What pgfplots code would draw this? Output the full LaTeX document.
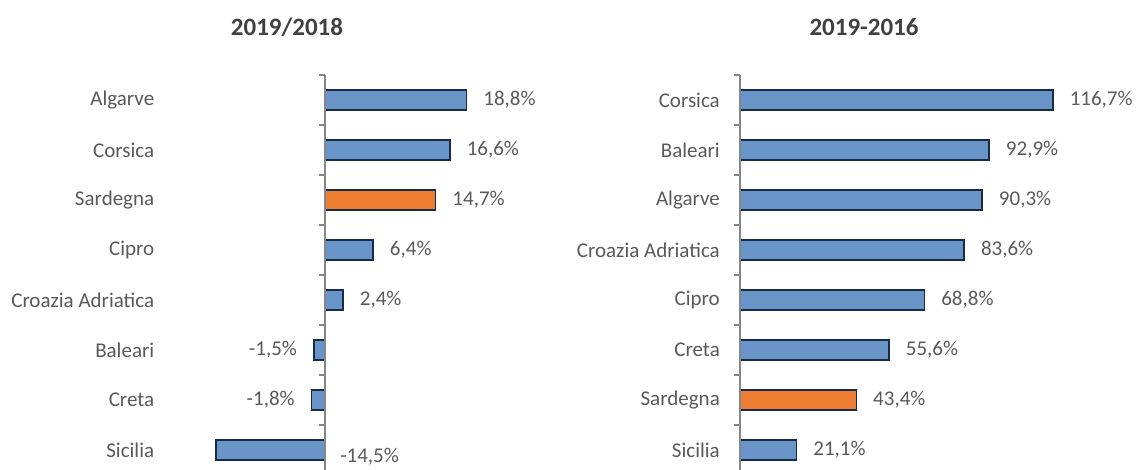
\documentclass[border=0pt]{standalone}
\usepackage{pgfplots}
\pgfplotsset{compat=1.18}
\usepackage{fontspec}
\setmainfont{Carlito}
\definecolor{barblue}{RGB}{104,148,200}
\definecolor{barorange}{RGB}{237,125,49}
\definecolor{baredge}{RGB}{22,43,72}
\definecolor{axgray}{RGB}{134,134,134}
\definecolor{txtgray}{RGB}{89,89,89}
\definecolor{ttlgray}{RGB}{64,64,64}
\pgfplotsset{
  mybar/.style={
    scale only axis, clip=false,
    xbar, bar shift=0pt, bar width=19.5pt,
    y=50pt, ymin=-0.4, ymax=7.5,
    axis line style={draw=none},
    xtick=\empty, ytick={0,...,7},
    major tick length=0pt, ytick style={draw=none},
    yticklabel style={font=\fontsize{21}{25}\selectfont, text=txtgray, inner xsep=0pt, xshift=-20pt},
    /pgf/number format/assume math mode=true,
    nodes near coords={\pgfmathprintnumber[fixed,fixed zerofill,precision=1,use comma]{\pgfplotspointmeta}\%},
    nodes near coords align={horizontal},
    every node near coord/.append style={font=\fontsize{21}{25}\selectfont, text=txtgray, inner xsep=16pt, inner ysep=0pt},
  },
  bluebar/.style={fill=barblue, draw=baredge, line width=1.6pt},
  orangebar/.style={fill=barorange, draw=baredge, line width=1.6pt},
}
\begin{document}
\begin{tikzpicture}
% left panel
\begin{axis}[mybar, at={(174.4pt,395pt)}, anchor=north west,
  x=7.53pt, xmin=-20, xmax=30,
  yticklabels={Sicilia,Creta,Baleari,Croazia Adriatica,Cipro,Sardegna,Corsica,Algarve}]
\addplot[bluebar] coordinates {(18.8,7) (16.6,6) (6.4,4) (2.4,3) (-1.5,2) (-1.8,1)};
\addplot[orangebar] coordinates {(14.7,5)};
\addplot[bluebar, nodes near coords={}] coordinates {(-14.5,0)};
\node[anchor=west, font=\fontsize{21}{25}\selectfont, text=txtgray, inner sep=0pt] at (axis cs:2.0,-0.14) {-14,5\%};
\draw[axgray, line width=1.5pt] (axis cs:0,7.5) -- (axis cs:0,-0.4);
\pgfplotsinvokeforeach{0.5,1.5,2.5,3.5,4.5,5.5,6.5,7.5}{\draw[axgray, line width=1.5pt] (axis cs:0,#1) -- ([xshift=-6pt]axis cs:0,#1);}
\end{axis}
% right panel
\begin{axis}[mybar, at={(740pt,395pt)}, anchor=north west,
  x=2.682pt, xmin=0, xmax=140,
  yticklabels={Sicilia,Sardegna,Creta,Cipro,Croazia Adriatica,Algarve,Baleari,Corsica}]
\addplot[bluebar] coordinates {(116.7,7) (92.9,6) (90.3,5) (83.6,4) (68.8,3) (55.6,2) (21.1,0)};
\addplot[orangebar] coordinates {(43.4,1)};
\draw[axgray, line width=1.5pt] (axis cs:0,7.5) -- (axis cs:0,-0.4);
\pgfplotsinvokeforeach{0.5,1.5,2.5,3.5,4.5,5.5,6.5,7.5}{\draw[axgray, line width=1.5pt] (axis cs:0,#1) -- ([xshift=-6pt]axis cs:0,#1);}
\end{axis}
\node[font=\bfseries\fontsize{25}{30}\selectfont, text=ttlgray] at (287pt,443pt) {2019/2018};
\node[font=\bfseries\fontsize{25}{30}\selectfont, text=ttlgray] at (864pt,443pt) {2019-2016};
\pgfresetboundingbox
\path[use as bounding box] (0,0) rectangle (1137pt,470pt);
\end{tikzpicture}
\end{document}
